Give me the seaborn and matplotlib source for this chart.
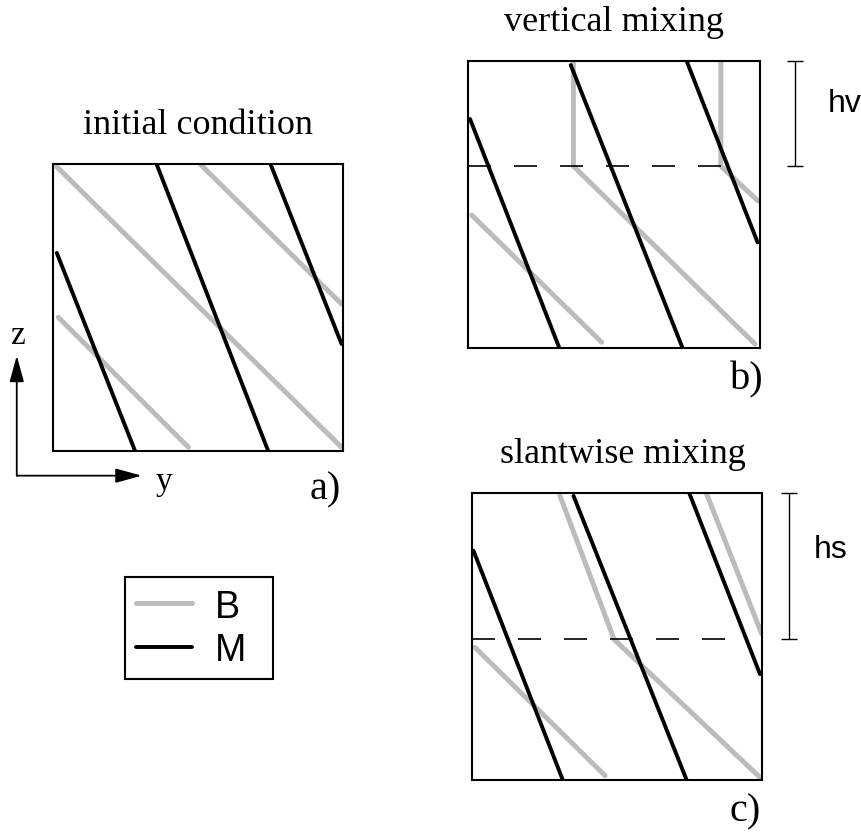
import pandas as pd
import matplotlib
matplotlib.use('Agg')
import matplotlib.pyplot as plt
import seaborn as sns

# line vertices as fractions of each box: y runs across, z runs up
# panel a: initial condition
A_M_Y = [[0.013, 0.283], [0.357, 0.742], [0.750, 0.995]]
A_M_Z = [[0.690, 0.000], [1.000, 0.000], [1.000, 0.373]]
A_B_Y = [[0.013, 0.995], [0.507, 0.995], [0.018, 0.467]]
A_B_Z = [[0.990, 0.013], [1.000, 0.512], [0.466, 0.013]]

# panel b: vertical mixing
B_M_Y = [[0.007, 0.313], [0.352, 0.735], [0.749, 0.992]]
B_M_Z = [[0.798, 0.000], [0.986, 0.000], [1.000, 0.368]]
B_B_Y = [[0.013, 0.458], [0.361, 0.361, 0.983], [0.866, 0.866, 0.994]]
B_B_Z = [[0.463, 0.020], [0.995, 0.634, 0.014], [0.995, 0.634, 0.512]]

# panel c: slantwise mixing
C_M_Y = [[0.005, 0.313], [0.350, 0.740], [0.749, 0.993]]
C_M_Z = [[0.799, 0.000], [0.990, 0.000], [1.000, 0.369]]
C_B_Y = [[0.010, 0.459], [0.303, 0.490, 0.993], [0.809, 0.999]]
C_B_Z = [[0.462, 0.015], [0.991, 0.490, 0.009], [0.997, 0.509]]

TITLES = ['initial condition', 'vertical mixing', 'slantwise mixing']
PANEL_LABELS = ['a)', 'b)', 'c)']
MIX_LEVEL = [0.634, 0.490]      # dashed line (bottom of mixed layer) in b and c
MIX_LABELS = ['hv', 'hs']

PALETTE = {'B': '#bcbcbc', 'M': 'black'}
SIZES = {'B': 3.6, 'M': 2.8}


def to_rows(panel, kind, ys, zs):
    """Turn lists of vertices into long-form rows, one segment id per line."""
    rows = []
    for i, (yy, zz) in enumerate(zip(ys, zs)):
        for y, z in zip(yy, zz):
            rows.append({'panel': panel, 'kind': kind, 'seg': f'{panel}{kind}{i}',
                         'y': y, 'z': z})
    return rows


rows = []
rows += to_rows('a', 'B', A_B_Y, A_B_Z) + to_rows('a', 'M', A_M_Y, A_M_Z)
rows += to_rows('b', 'B', B_B_Y, B_B_Z) + to_rows('b', 'M', B_M_Y, B_M_Z)
rows += to_rows('c', 'B', C_B_Y, C_B_Z) + to_rows('c', 'M', C_M_Y, C_M_Z)
df = pd.DataFrame(rows)

sns.set_style('white')
plt.rcParams['font.family'] = ['Liberation Serif', 'DejaVu Serif']
plt.rcParams['text.color'] = 'black'

fig = plt.figure(figsize=(8.62, 8.37), dpi=100)
ax_a = fig.add_axes([0.0615, 0.460, 0.3364, 0.3429])
ax_b = fig.add_axes([0.5429, 0.583, 0.3387, 0.3429])
ax_c = fig.add_axes([0.5476, 0.0669, 0.3364, 0.3429])
axes = [ax_a, ax_b, ax_c]

for ax, panel, title in zip(axes, ['a', 'b', 'c'], TITLES):
    sns.lineplot(data=df[df['panel'] == panel], x='y', y='z', hue='kind', size='kind',
                 units='seg', estimator=None, sort=False, palette=PALETTE, sizes=SIZES,
                 hue_order=['B', 'M'], size_order=['B', 'M'],
                 legend=(panel == 'a'), ax=ax)
    ax.set_xlim(0, 1)
    ax.set_ylim(0, 1)
    ax.set_xticks([])
    ax.set_yticks([])
    ax.set_xlabel('')
    ax.set_ylabel('')
    for sp in ax.spines.values():
        sp.set_visible(True)
        sp.set_color('black')
        sp.set_linewidth(1.5)
    tx = 0.52 if panel == 'c' else 0.5
    ax.text(tx, 1.107, title, transform=ax.transAxes, ha='center', va='baseline',
            fontsize=26)

for ax, lab, (lx, ly) in zip(axes, PANEL_LABELS,
                             [(0.938, -0.132), (0.955, -0.108), (0.941, -0.108)]):
    ax.text(lx, ly, lab, transform=ax.transAxes, ha='center', va='center', fontsize=29)

# coordinate arrows next to panel a
arrow = dict(arrowstyle='-|>,head_length=0.8,head_width=0.22', color='black', lw=1.3,
             mutation_scale=20, shrinkA=0, shrinkB=0)
ax_a.annotate('', xy=(-0.125, 0.332), xytext=(-0.125, -0.086), xycoords='axes fraction',
              arrowprops=arrow, annotation_clip=False)
ax_a.annotate('', xy=(0.306, -0.086), xytext=(-0.125, -0.086), xycoords='axes fraction',
              arrowprops=arrow, annotation_clip=False)
ax_a.text(-0.122, 0.405, 'z', transform=ax_a.transAxes, ha='center', va='center', fontsize=24)
ax_a.text(0.383, -0.105, 'y', transform=ax_a.transAxes, ha='center', va='center', fontsize=24)

# mixed-layer depth: dashed line, bracket and label
for ax, lvl, lab, bx, lx, ly in zip([ax_b, ax_c], MIX_LEVEL, MIX_LABELS,
                                    [1.12, 1.094], [1.29, 1.238], [0.827, 0.777]):
    ax.axhline(lvl, xmin=0, xmax=0.91, color='black', lw=1.2, ls=(0, (13.8, 13.8)))
    eb = ax.errorbar(bx, (1 + lvl) / 2, yerr=(1 - lvl) / 2, fmt='none', ecolor='black',
                     elinewidth=1.0, capsize=6, capthick=1.0)
    for art in eb.get_children():
        art.set_clip_on(False)
    ax.text(lx, ly, lab, transform=ax.transAxes, ha='center', va='baseline',
            fontsize=23, family='Liberation Sans')

sns.move_legend(ax_a, 'upper left', bbox_to_anchor=(0.248, -0.45, 0.509, 0.01), mode='expand',
                title=None, frameon=True, fancybox=False, framealpha=1, edgecolor='black',
                borderaxespad=0, borderpad=0.3, handlelength=1.5, handletextpad=0.6,
                labelspacing=0.2, prop={'family': 'Liberation Sans', 'size': 27})
ax_a.get_legend().get_frame().set_linewidth(1.5)

fig.savefig('out.png', dpi=100)
